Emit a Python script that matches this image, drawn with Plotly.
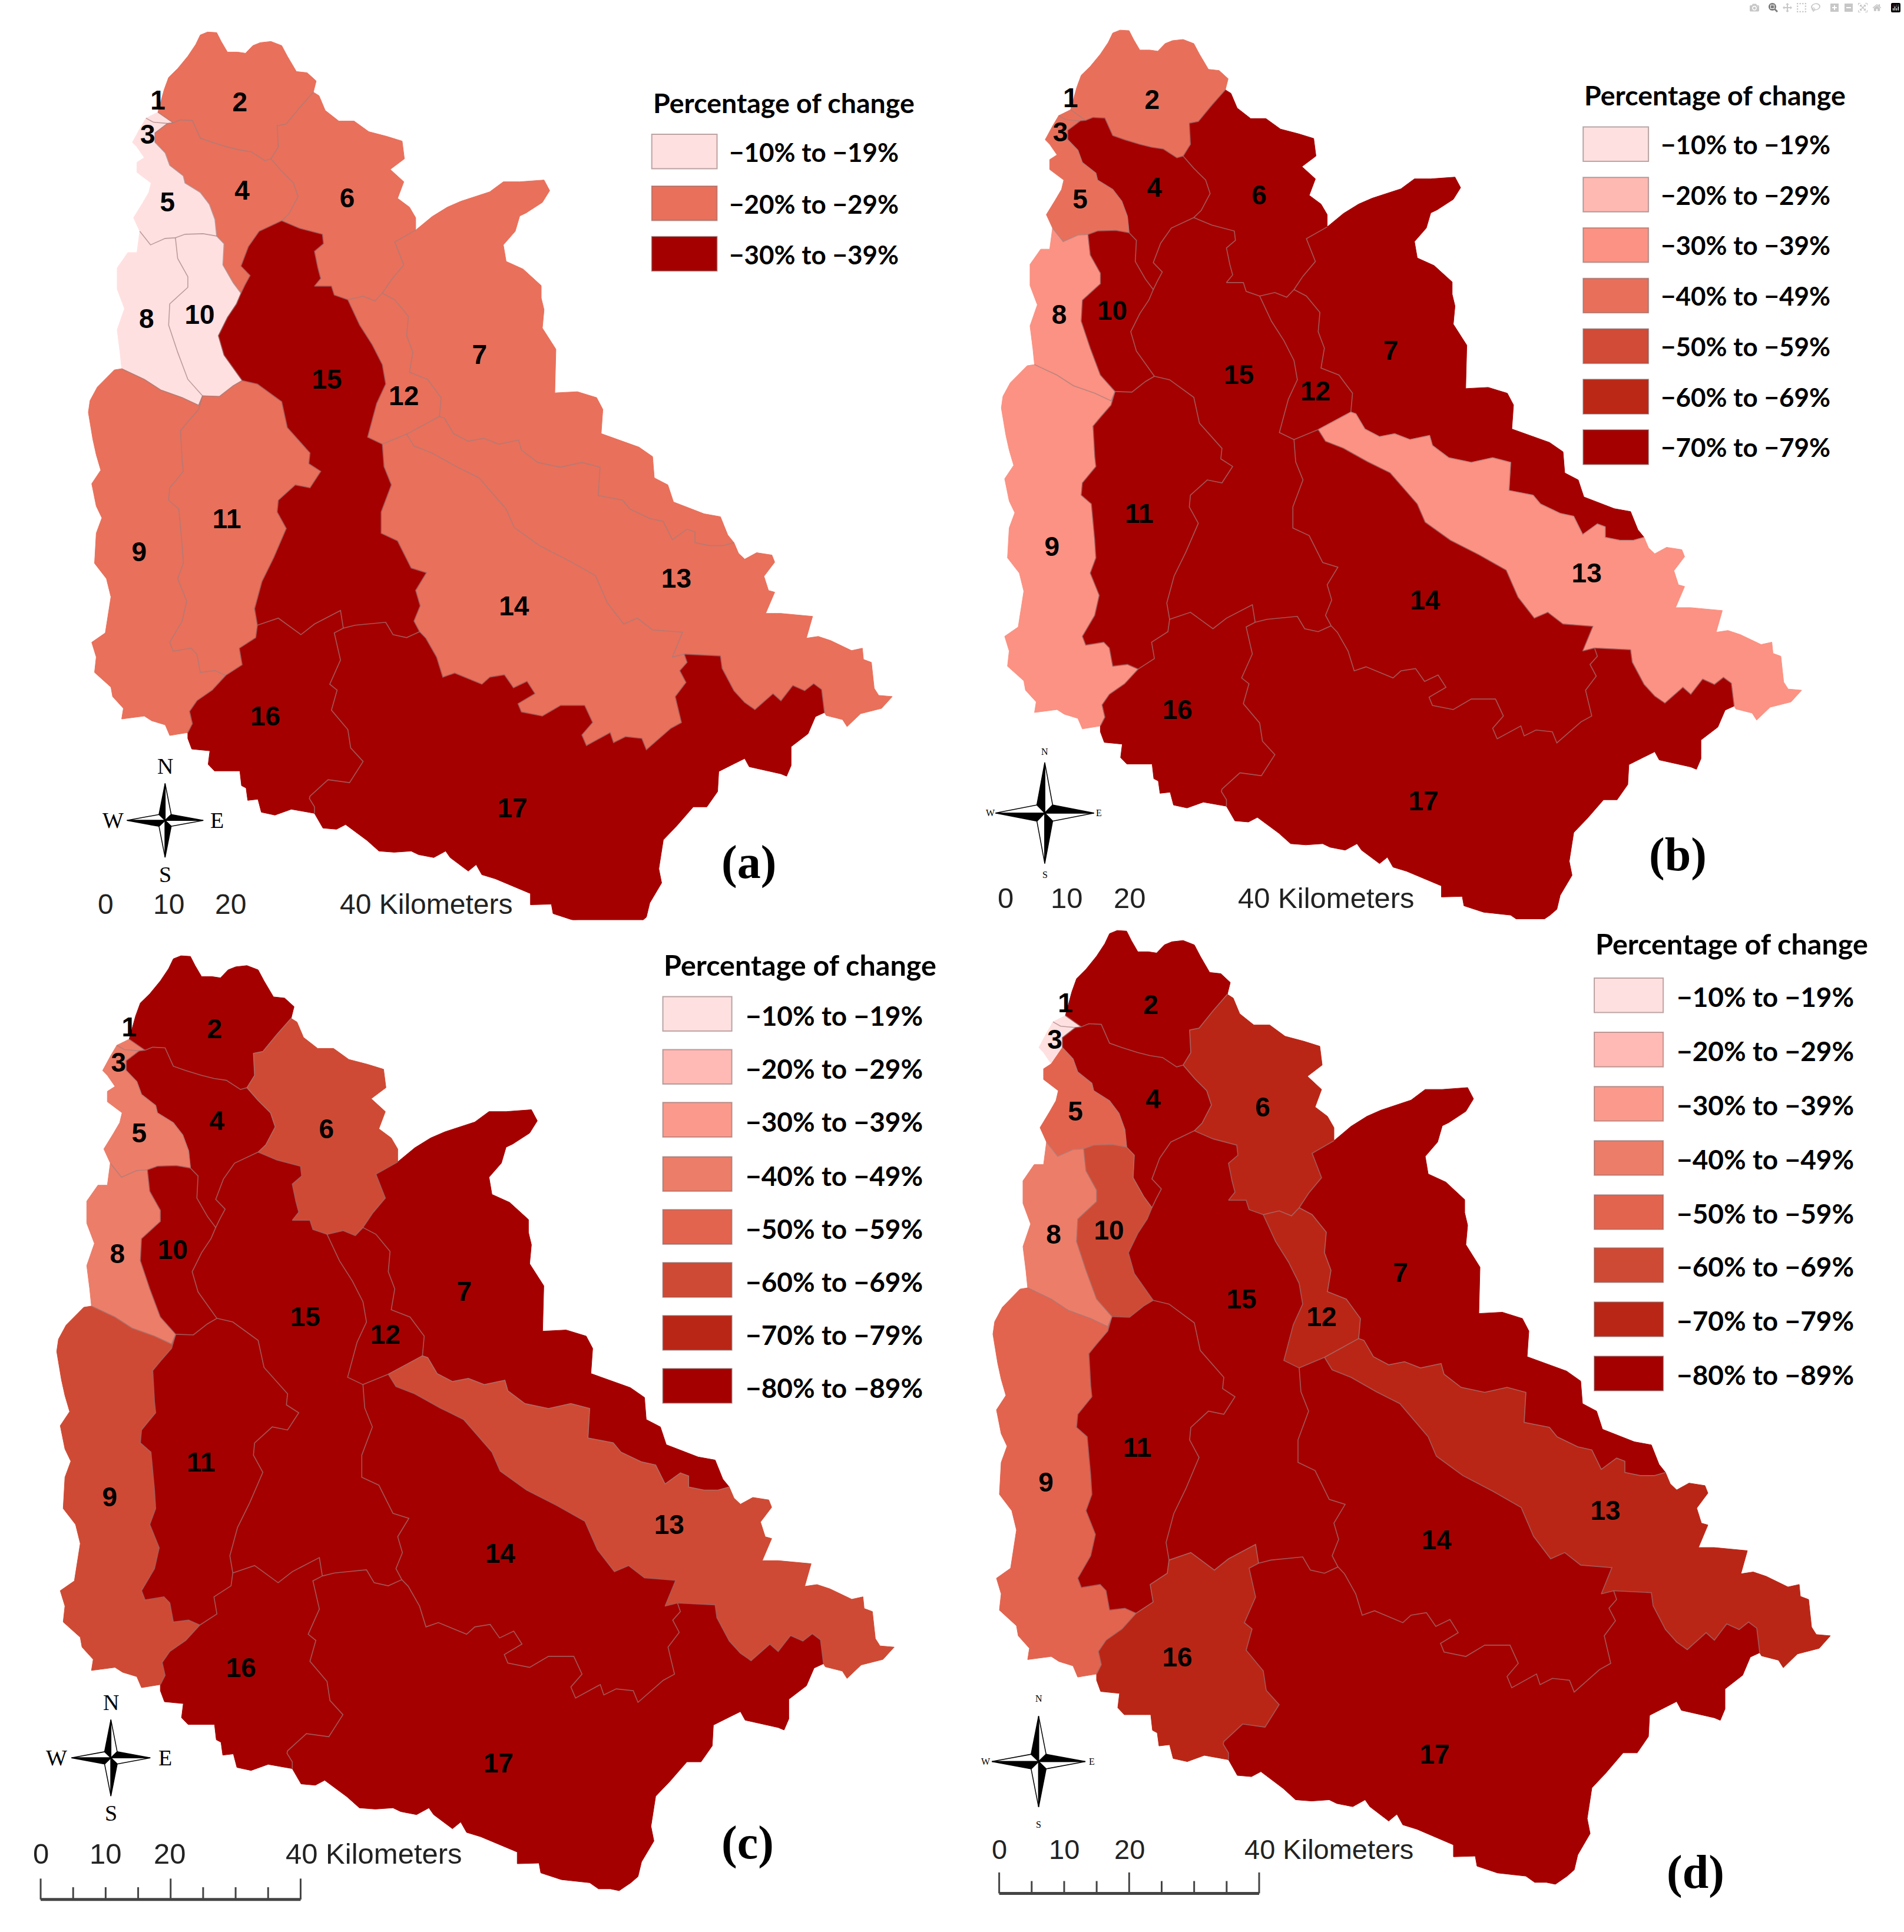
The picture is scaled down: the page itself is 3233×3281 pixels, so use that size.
import plotly.graph_objects as go

PAGE_W = 3233
PAGE_H = 3281
SC = 2.092  # overview picture -> page pixels

# sub-basin borders, map units, y grows downwards
o2 = [(208,187),(219,149),(227,128),(243,113),(261,92),(275,72),(283,56),(296,51),(312,52),(320,67),(331,85),(349,85),(363,87),(376,74),(389,69),(408,67),(427,74),(437,92),(453,118),(472,120),(488,134),(483,153)]
o6 = [(483,153),(493,159),(504,184),(528,202),(555,202),(581,220),(613,228),(640,236),(644,266),(619,284),(643,305),(632,333),(653,348),(664,366),(664,387)]
o7 = [(664,387),(693,364),(720,348),(744,338),(795,322),(819,305),(848,305),(891,302),(901,320),(888,340),(859,358),(848,363),(840,389),(819,412),(824,440),(854,453),(886,481),(886,502),(891,522),(888,553),(912,589),(910,663),(950,661),(984,671),(995,691),(992,732),(1059,755),(1083,771),(1086,807),(1110,819),(1120,848),(1174,868),(1203,873),(1216,904),(1227,917)]
o13 = [(1227,917),(1235,935),(1246,945),(1267,934),(1294,938),(1299,950),(1280,974),(1288,998),(1299,1001),(1283,1037),(1310,1037),(1366,1042),(1355,1079),(1376,1076),(1398,1083),(1435,1100),(1454,1096),(1456,1115),(1470,1120),(1475,1164),(1483,1176),(1507,1178),(1488,1198),(1451,1207),(1427,1229),(1419,1217),(1390,1210),(1387,1205)]
o17 = [(1387,1205),(1371,1212),(1358,1241),(1328,1263),(1328,1295),(1320,1313),(1310,1309),(1254,1297),(1246,1283),(1227,1292),(1200,1305),(1198,1339),(1179,1365),(1155,1365),(1126,1397),(1102,1421),(1094,1470),(1099,1494),(1078,1528),(1072,1552),(1060,1562),(1040,1575),(1025,1572),(1005,1572),(990,1562),(942,1557),(907,1546),(904,1530),(867,1531),(867,1512),(840,1501),(805,1487),(781,1480),(771,1463),(757,1474),(725,1451),(717,1440),(696,1451),(669,1446),(656,1440),(626,1442),(599,1440),(578,1422),(540,1395),(524,1403),(500,1401),(485,1376)]
o16 = [(485,1376),(444,1369),(415,1379),(391,1374),(385,1352),(367,1354),(364,1333),(356,1329),(353,1304),(308,1304),(297,1293),(300,1270),(268,1267),(261,1249),(261,1239)]
o9 = [(261,1239),(229,1244),(221,1226),(197,1219),(184,1211),(144,1216),(147,1198),(128,1178),(125,1162),(96,1137),(99,1111),(91,1086),(115,1070),(125,1009),(117,978),(96,952),(99,901),(109,875),(99,855),(91,817),(107,794),(99,768),(93,742),(85,696),(88,676),(101,653),(131,624),(144,622)]
o8 = [(144,622),(141,594),(136,556),(149,520),(136,487),(136,451),(155,425),(171,425),(176,389)]
o5 = [(176,389),(165,366),(181,341),(192,323),(196,307),(171,289),(171,272),(184,264)]
o3 = [(184,264),(171,246),(163,238),(176,215),(187,197)]
o1 = [(187,197),(208,187)]
a12 = [(208,187),(235,205)]
a14 = [(235,205),(225,206)]
a13 = [(187,197),(200,204),(225,206)]
a34 = [(225,206),(203,222),(203,238)]
a35 = [(203,238),(184,264)]
a24 = [(235,205),(248,200),(269,201),(283,231),(304,238),(331,246),(352,251),(373,254),(397,269),(408,266)]
a26 = [(483,153),(459,179),(435,207),(419,210),(421,246),(408,266)]
a46 = [(408,266),(427,287),(448,307),(456,330),(440,359),(427,371)]
a45 = [(203,238),(221,256),(229,277),(253,295),(256,307),(283,323),(299,343),(309,369),(312,397)]
a410 = [(312,397),(325,410),(323,446),(341,476),(355,494)]
a415 = [(355,494),(362,480),(371,464),(355,448),(368,415),(387,389),(427,371)]
a615 = [(427,371),(459,384),(499,394),(501,410),(485,423),(491,451),(496,469),(485,482),(515,482),(520,497),(544,505)]
a612 = [(544,505),(571,499),(592,507),(605,494)]
a67 = [(605,494),(621,471),(643,446),(627,407),(664,387)]
a58 = [(176,389),(195,412),(221,401),(239,400)]
a510 = [(239,400),(256,394),(288,393),(312,397)]
a810 = [(239,400),(243,435),(261,466),(261,484),(229,512),(227,548),(243,594),(261,640),(287,668)]
a89 = [(144,622),(184,640),(213,658),(251,671),(280,684),(287,668)]
a1015 = [(355,494),(347,512),(331,535),(315,566),(325,599),(357,642)]
a1011 = [(357,642),(341,651),(317,669),(287,668)]
a911 = [(287,668),(280,691),(261,712),(248,727),(251,778),(253,796),(229,824),(227,845),(245,860),(251,922),(253,952),(243,978),(259,1016),(251,1050),(229,1086),(235,1101),(267,1096),(277,1106),(283,1137),(309,1134),(328,1142)]
a916 = [(328,1142),(304,1167),(277,1185),(264,1203),(269,1224),(261,1239)]
a1116 = [(328,1142),(357,1124),(352,1096),(381,1078),(384,1057)]
a1115 = [(357,642),(384,648),(427,678),(437,722),(477,765),(475,783),(496,796),(477,824),(451,819),(421,845),(419,865),(435,893),(413,942),(392,983),(379,1029),(384,1057)]
a1215 = [(544,505),(565,548),(587,581),(605,615),(611,648),(595,681),(579,738),(605,750)]
a712 = [(605,494),(627,505),(651,533),(648,566),(659,594),(653,628),(685,640),(709,671),(706,703)]
a713 = [(706,703),(715,706),(731,732),(757,745),(784,740),(811,750),(846,743),(851,760),(880,781),(920,789),(958,781),(990,789),(987,837),(1030,845),(1043,860),(1078,876),(1102,881),(1118,912),(1144,894),(1158,899),(1158,917),(1184,922),(1208,922),(1227,917)]
a1213 = [(648,733),(669,722),(706,703)]
a1214 = [(605,750),(648,733)]
a1314 = [(648,733),(661,753),(693,765),(736,788),(776,807),(824,860),(838,891),(883,922),(934,947),(982,973),(1003,1019),(1032,1055),(1056,1045),(1083,1065),(1136,1069),(1118,1111),(1139,1106)]
a1317 = [(1139,1106),(1203,1109),(1206,1130),(1227,1168),(1246,1188),(1264,1200),(1296,1173),(1310,1185),(1331,1159),(1352,1168),(1368,1156),(1382,1166),(1387,1205)]
a1417 = [(671,1068),(682,1079),(701,1111),(712,1145),(733,1138),(781,1157),(795,1145),(821,1141),(837,1163),(861,1152),(875,1173),(845,1190),(851,1204),(888,1211),(920,1193),(963,1193),(977,1222),(958,1243),(966,1261),(1008,1239),(1014,1256),(1035,1246),(1064,1249),(1072,1268),(1115,1232),(1134,1222),(1123,1178),(1142,1154),(1131,1134),(1144,1120),(1139,1106)]
a1415 = [(605,750),(608,788),(621,819),(603,865),(603,901),(632,914),(656,960),(683,968),(664,998),(672,1024),(661,1050),(671,1068)]
a1517 = [(536,1062),(557,1057),(611,1052),(624,1073),(648,1078),(671,1068)]
a1516 = [(384,1057),(421,1045),(461,1073),(485,1055),(531,1032),(536,1062)]
a1617 = [(536,1062),(520,1070),(531,1116),(512,1157),(525,1167),(515,1201),(544,1234),(549,1265),(571,1288),(547,1324),(509,1319),(477,1347),(476,1351),(485,1365),(485,1376)]

inner_arcs = [a12, a14, a13, a34, a24, a26, a46, a45, a410, a415, a615, a612, a67, a58, a510, a810, a89,
              a1015, a1011, a911, a916, a1116, a1115, a1215, a712, a713, a1213, a1214, a1314, a1317, a1417,
              a1415, a1517, a1516, a1617]

basin_rings = {
    1: [a12, a14, a13[::-1], o1],
    2: [o2, a26, a24[::-1], a12[::-1]],
    3: [a13, a34, a35, o3],
    4: [a24, a46, a415[::-1], a410[::-1], a45[::-1], a34[::-1], a14[::-1]],
    5: [a45, a510[::-1], a58[::-1], o5, a35[::-1]],
    6: [o6, a67[::-1], a612[::-1], a615[::-1], a46[::-1], a26[::-1]],
    7: [o7, a713[::-1], a712[::-1], a67],
    8: [a58, a810, a89[::-1], o8],
    9: [a89, a911, a916, o9],
    10: [a510, a410, a1015, a1011, a810[::-1]],
    11: [a1011[::-1], a1115, a1116[::-1], a911[::-1]],
    12: [a612, a712, a1213[::-1], a1214[::-1], a1215[::-1]],
    13: [a713, o13, a1317[::-1], a1314[::-1], a1213],
    14: [a1314, a1417[::-1], a1415[::-1], a1214],
    15: [a615, a1215, a1415, a1517[::-1], a1516[::-1], a1115[::-1], a1015[::-1], a415],
    16: [a1516, a1617, o16, a916[::-1], a1116],
    17: [a1517, a1417, a1317, o17, a1617[::-1]],
}

label_x = [208, 353, 190, 357, 225, 543, 777, 188, 175, 282, 330, 643, 1125, 838, 507, 398, 835]
label_y = [171, 174, 229, 324, 344, 337, 602, 541, 937, 534, 881, 672, 982, 1029, 644, 1216, 1371]

# legends
classes_a = ["−10% to −19%", "−20% to −29%", "−30% to −39%"]
colors_a = ["#ffe0e0", "#e9705b", "#a50000"]
classes_b = ["−10% to −19%", "−20% to −29%", "−30% to −39%", "−40% to −49%", "−50% to −59%", "−60% to −69%", "−70% to −79%"]
colors_b = ["#ffe0e0", "#ffb9b3", "#fb9283", "#e8705b", "#d14b36", "#bc2816", "#a50000"]
classes_c = ["−10% to −19%", "−20% to −29%", "−30% to −39%", "−40% to −49%", "−50% to −59%", "−60% to −69%", "−70% to −79%", "−80% to −89%"]
colors_c = ["#ffe0e0", "#ffbab5", "#fb9a8c", "#ec7d69", "#e2644f", "#cf4a34", "#ba2616", "#a50000"]

# class of each sub-basin 1..17, index into that panel's legend
class_a = [0, 1, 0, 1, 0, 1, 1, 0, 1, 0, 1, 1, 1, 1, 2, 2, 2]
class_b = [3, 3, 3, 6, 3, 6, 6, 2, 2, 6, 6, 6, 2, 6, 6, 6, 6]
class_c = [3, 7, 3, 7, 3, 5, 7, 3, 5, 7, 7, 7, 5, 7, 7, 7, 7]
class_d = [0, 7, 0, 7, 4, 6, 7, 3, 4, 5, 7, 6, 6, 7, 7, 6, 7]

panels = [
    dict(tag="(a)", tag_xy=(608, 700), x0=68.4, sx=0.960, y0=3.3, sy=1.0014, ymax=1557, cls=class_a, classes=classes_a, colors=colors_a,
         leg_x=529, leg_title_y=83, leg_y=[123, 165, 206], sw_w=53, sw_h=28, title_font=46.5, leg_font=44, text_dx=9, text_dy=0.5,
         comp=(134, 666, 31, 30), comp_font=38, comp_r=(42, 44), nums=[86, 137, 187], km_x=275, km_y=734, km_font=48, bar=None),
    dict(tag="(b)", tag_xy=(1362, 694), x0=1619, sx=0.9557, y0=0.4, sy=0.9947, ymax=1569, cls=class_b, classes=classes_b, colors=colors_b,
         leg_x=1285, leg_title_y=77, leg_y=[117, 158, 199, 240, 281, 322, 363], sw_w=53, sw_h=28, title_font=46.5, leg_font=44, text_dx=9, text_dy=0,
         comp=(848, 660, 40, 41), comp_font=16, comp_r=(44, 50), nums=[816, 866, 917], km_x=1004, km_y=729, km_font=49, bar=None),
    dict(tag="(c)", tag_xy=(607, 1496), x0=11.3, sx=1.000, y0=1570, sy=1.0418, ymax=1590, cls=class_c, classes=classes_c, colors=colors_c,
         leg_x=538, leg_title_y=783, leg_y=[823, 866, 909, 953, 996, 1039, 1082, 1125], sw_w=56, sw_h=28, title_font=48.5, leg_font=46, text_dx=10, text_dy=1.5,
         comp=(90, 1427, 32, 31), comp_font=38, comp_r=(44, 45), nums=[33, 86, 138], km_x=231, km_y=1505, km_font=49, bar=(33, 244, 1542)),
    dict(tag="(d)", tag_xy=(1376, 1520), x0=1601, sx=1.000, y0=1526, sy=1.0628, ymax=1590, cls=class_d, classes=classes_c, colors=colors_c,
         leg_x=1294, leg_title_y=766, leg_y=[808, 852, 896, 940, 984, 1027, 1071, 1115], sw_w=56, sw_h=28, title_font=48.5, leg_font=46, text_dx=10, text_dy=1,
         comp=(843, 1430, 38, 37), comp_font=16, comp_r=(43, 51), nums=[811, 864, 917], km_x=1009, km_y=1501, km_font=47, bar=(811, 1022, 1537)),
]


def fx(v):
    return v * SC / PAGE_W


def fy(v):
    return 1 - v * SC / PAGE_H


def ring_xy(arcs):
    xs, ys = [], []
    for arc in arcs:
        xs += [p[0] for p in arc]
        ys += [p[1] for p in arc]
    return xs + xs[:1], ys + ys[:1]


def compass_paths(cx, cy, arm_x, arm_y):
    w_x, w_y = arm_x * 0.16, arm_y * 0.16
    tips = [(0, -arm_y), (arm_x, 0), (0, arm_y), (-arm_x, 0)]
    black = [(-w_x, -w_y), (w_x, -w_y), (w_x, w_y), (-w_x, w_y)]
    white = [(w_x, -w_y), (w_x, w_y), (-w_x, w_y), (-w_x, -w_y)]
    out = []
    for tip, b, w in zip(tips, black, white):
        for side, col in ((w, "#ffffff"), (b, "#000000")):
            pts = [(cx, cy), (cx + tip[0], cy + tip[1]), (cx + side[0], cy + side[1])]
            path = "M " + " L ".join(f"{fx(x):.5f} {fy(y):.5f}" for x, y in pts) + " Z"
            out.append(dict(type="path", xref="paper", yref="paper", path=path, fillcolor=col,
                            line=dict(color="#000000", width=1.5)))
    return out


fig = go.Figure()
shapes = []
notes = []


def note(x, y, text, size, family, color="#000000", xanchor="center"):
    notes.append(dict(x=fx(x), y=fy(y), xref="paper", yref="paper", text=text, showarrow=False,
                      xanchor=xanchor, yanchor="middle", font=dict(size=size, family=family, color=color)))


for i, p in enumerate(panels):
    suffix = "" if i == 0 else str(i + 1)
    ax_x = "x" + suffix
    ax_y = "y" + suffix

    for num in range(1, 18):
        xs, ys = ring_xy(basin_rings[num])
        col = p["colors"][p["cls"][num - 1]]
        fig.add_trace(go.Scatter(x=xs, y=ys, mode="lines", fill="toself", fillcolor=col,
                                 line=dict(color=col, width=1), hoverinfo="skip", showlegend=False,
                                 xaxis=ax_x, yaxis=ax_y))
    for arc in inner_arcs:
        fig.add_trace(go.Scatter(x=[q[0] for q in arc], y=[q[1] for q in arc], mode="lines",
                                 line=dict(color="rgba(160,125,125,0.7)", width=1.6), hoverinfo="skip",
                                 showlegend=False, xaxis=ax_x, yaxis=ax_y))
    fig.add_trace(go.Scatter(x=label_x, y=label_y, mode="text", text=["<b>" + str(n) + "</b>" for n in range(1, 18)],
                             textfont=dict(size=46, family="Liberation Sans", color="#000000"),
                             textposition="middle center", hoverinfo="skip", showlegend=False,
                             xaxis=ax_x, yaxis=ax_y))

    x1 = p["x0"] + 1568 * p["sx"]
    y1 = p["y0"] + p["ymax"] * p["sy"]
    fig.update_layout({
        "xaxis" + suffix: dict(domain=[p["x0"] / PAGE_W, x1 / PAGE_W], range=[0, 1568], visible=False, anchor=ax_y),
        "yaxis" + suffix: dict(domain=[1 - y1 / PAGE_H, 1 - p["y0"] / PAGE_H], range=[p["ymax"], 0], visible=False, anchor=ax_x),
    })

    # legend
    note(p["leg_x"], p["leg_title_y"], "<b>Percentage of change</b>", p["title_font"], "Lato", xanchor="left")
    for name, col, cy in zip(p["classes"], p["colors"], p["leg_y"]):
        shapes.append(dict(type="rect", xref="paper", yref="paper", x0=fx(p["leg_x"]), x1=fx(p["leg_x"] + p["sw_w"]),
                           y0=fy(cy + p["sw_h"] / 2), y1=fy(cy - p["sw_h"] / 2), fillcolor=col,
                           line=dict(color="rgba(120,90,90,0.5)", width=2)))
        note(p["leg_x"] + p["sw_w"] + p["text_dx"], cy + p["text_dy"], "<b>" + name + "</b>", p["leg_font"], "Lato", xanchor="left")

    # compass
    cx, cy, arm_x, arm_y = p["comp"]
    shapes += compass_paths(cx, cy, arm_x, arm_y)
    rx, ry = p["comp_r"]
    for lab, dx, dy in (("N", 0, -ry), ("S", 0, ry), ("W", -rx, 0), ("E", rx, 0)):
        note(cx + dx, cy + dy, lab, p["comp_font"], "Liberation Serif")

    # scale
    for xv, lab in zip(p["nums"], ["0", "10", "20"]):
        note(xv, p["km_y"], lab, p["km_font"], "Liberation Sans", color="#222222")
    note(p["km_x"], p["km_y"], "40 Kilometers", p["km_font"], "Liberation Sans", color="#222222", xanchor="left")
    if p["bar"]:
        x_left, x_right, y_bar = p["bar"]
        step = (x_right - x_left) / 8
        line = dict(color="#444444", width=3)
        shapes.append(dict(type="line", xref="paper", yref="paper", x0=fx(x_left), x1=fx(x_right), y0=fy(y_bar), y1=fy(y_bar), line=dict(color="#444444", width=5)))
        for k in range(9):
            top = y_bar - 17 if k in (0, 4, 8) else y_bar - 10
            shapes.append(dict(type="line", xref="paper", yref="paper", x0=fx(x_left + k * step), x1=fx(x_left + k * step),
                               y0=fy(y_bar), y1=fy(top), line=line))

    note(p["tag_xy"][0], p["tag_xy"][1], "<b>" + p["tag"] + "</b>", 80, "Liberation Serif")

fig.update_layout(width=PAGE_W, height=PAGE_H, margin=dict(l=0, r=0, t=0, b=0), paper_bgcolor="white",
                  plot_bgcolor="rgba(0,0,0,0)", showlegend=False, shapes=shapes, annotations=notes)
fig.write_html("out.html", post_script="document.body.style.margin='0'")
